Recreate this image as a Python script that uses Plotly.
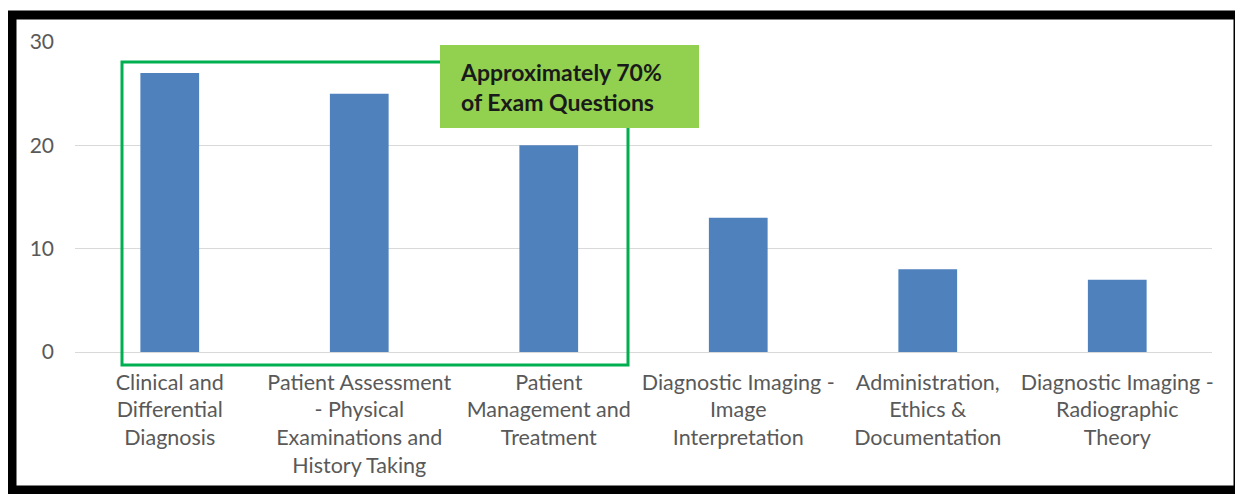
import plotly.graph_objects as go

categories = [
    "Clinical and<br>Differential<br>Diagnosis",
    "Patient Assessment<br>- Physical<br>Examinations and<br>History Taking",
    "Patient<br>Management and<br>Treatment",
    "Diagnostic Imaging -<br>Image<br>Interpretation",
    "Administration,<br>Ethics &<br>Documentation",
    "Diagnostic Imaging -<br>Radiographic<br>Theory",
]
values = [27, 25, 20, 13, 8, 7]
y_ticks = [0, 10, 20, 30]
callout_text = "Approximately 70%<br>of Exam Questions"

# page body adds an 8px offset, so the figure is slightly smaller
OFF = 8
W, H = 1243 - OFF, 494 - OFF
L, R, T, B = 75 - OFF, 31, 42 - OFF, 142
pw, ph = W - L - R, H - T - B

def px(x):
    return (x - OFF - L) / pw

def py(y):
    return (H - B - (y - OFF)) / ph

fig = go.Figure()
fig.add_trace(go.Bar(
    x=list(range(len(categories))),
    y=values,
    marker=dict(color="#4F81BD", line=dict(width=0)),
    width=0.31,
    hoverinfo="skip",
))

fig.update_layout(
    width=W, height=H,
    margin=dict(l=L, r=R, t=T, b=B),
    paper_bgcolor="white",
    plot_bgcolor="white",
    showlegend=False,
    font=dict(family="Lato, Open Sans, sans-serif", color="#595959", size=21),
    xaxis=dict(
        tickmode="array",
        tickvals=list(range(len(categories))),
        ticktext=categories,
        range=[-0.5, len(categories) - 0.5],
        showgrid=False,
        showline=False,
        zeroline=False,
        ticks="",
        tickangle=0,
        ticklabelstandoff=15,
        tickfont=dict(size=21.5, color="#595959"),
    ),
    yaxis=dict(
        range=[0, 30],
        tickvals=y_ticks,
        showgrid=True,
        gridcolor="#D9D9D9",
        gridwidth=1,
        zeroline=True,
        zerolinecolor="#D9D9D9",
        zerolinewidth=1,
        showline=False,
        ticks="",
        ticklabelstandoff=20,
        tickfont=dict(size=21, color="#595959"),
    ),
    shapes=[
        dict(type="rect", xref="paper", yref="paper",
             x0=px(122), x1=px(628), y0=py(365), y1=py(62),
             line=dict(color="#00B050", width=3), fillcolor="rgba(0,0,0,0)", layer="above"),
        dict(type="rect", xref="paper", yref="paper",
             x0=px(440), x1=px(699), y0=py(128), y1=py(45),
             line=dict(color="#92D050", width=0), fillcolor="#92D050", layer="above"),
        dict(type="rect", xref="paper", yref="paper",
             x0=px(12), x1=px(1238), y0=py(490), y1=py(15),
             line=dict(color="black", width=9), fillcolor="rgba(0,0,0,0)", layer="above"),
    ],
    annotations=[
        dict(text="<b>" + callout_text + "</b>", xref="paper", yref="paper",
             x=px(458), y=py(87), xanchor="left", yanchor="middle", align="left",
             showarrow=False, font=dict(size=23, color="#1A1A1A", family="Lato, sans-serif")),
    ],
)

fig.write_html("out.html")
